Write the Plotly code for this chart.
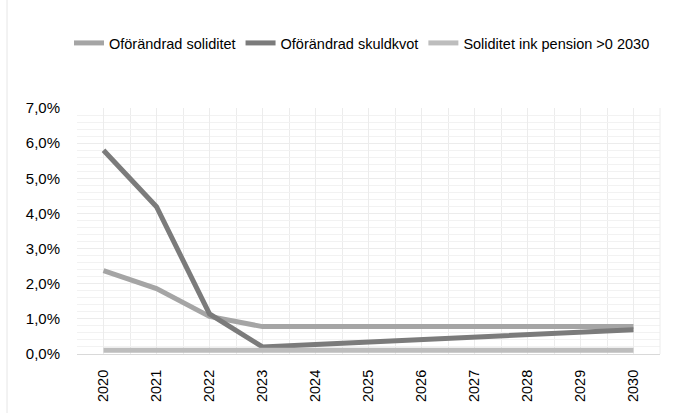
import plotly.graph_objects as go

years = [2020, 2021, 2022, 2023, 2024, 2025, 2026, 2027, 2028, 2029, 2030]
ofor_soliditet = [0.0237, 0.0186, 0.0107, 0.0078, 0.0078, 0.0078, 0.0078, 0.0078, 0.0078, 0.0078, 0.0078]
ofor_skuldkvot = [0.0580, 0.0419, 0.0114, 0.0020, 0.0027, 0.0034, 0.0041, 0.0048, 0.0055, 0.0062, 0.0069]
soliditet_pension = [0.0011, 0.0011, 0.0011, 0.0011, 0.0011, 0.0011, 0.0011, 0.0011, 0.0011, 0.0011, 0.0011]
names = ["Oförändrad soliditet", "Oförändrad skuldkvot", "Soliditet ink pension >0 2030"]
colors = ["#a5a5a5", "#7b7b7b", "#bdbdbd"]

fig = go.Figure()
for name, vals, col in zip(names, [ofor_soliditet, ofor_skuldkvot, soliditet_pension], colors):
    fig.add_trace(go.Scatter(x=years, y=vals, mode="lines", name=name,
                             line=dict(color=col, width=5, shape="linear"),
                             cliponaxis=False))

W, H = 674, 413
ml, mr, mt, mb = 77, 14, 108, 59
pw, ph = W - ml - mr, H - mt - mb
FONT = "Liberation Sans, Arial, sans-serif"

fig.update_layout(
    width=W, height=H,
    margin=dict(l=ml, r=mr, t=mt, b=mb),
    paper_bgcolor="white", plot_bgcolor="white",
    separators=",.",
    font=dict(family=FONT, size=14, color="#000000"),
    showlegend=True,
    legend=dict(orientation="h", x=(362 - ml) / pw, xanchor="center",
                y=(H - mb - 43) / ph, yanchor="middle",
                font=dict(family=FONT, size=14.5, color="#000000"), itemwidth=30,
                tracegroupgap=0, bgcolor="rgba(0,0,0,0)"),
    xaxis=dict(range=[2019.5, 2030.5], tickmode="array", tickvals=years,
               ticktext=[str(y) for y in years], tickangle=-90,
               showgrid=True, gridcolor="#ececec", gridwidth=1,
               minor=dict(dtick=0.5, tick0=2019.5, showgrid=True, gridcolor="#ececec", gridwidth=1),
               showline=True, linecolor="#d9d9d9", linewidth=1, mirror=False,
               zeroline=False, ticks="", ticklabelstandoff=9,
               tickfont=dict(family=FONT, size=14.5)),
    yaxis=dict(range=[0, 0.07], dtick=0.01, tickformat=".1%",
               showgrid=True, gridcolor="#ececec", gridwidth=1,
               minor=dict(dtick=0.002, showgrid=True, gridcolor="#f2f2f2", gridwidth=1),
               showline=False, zeroline=False, ticks="", ticklabelstandoff=16,
               tickfont=dict(family=FONT, size=15)),
    shapes=[
        dict(type="line", xref="paper", yref="paper",
             x0=(7 - ml) / pw, x1=(7 - ml) / pw, y0=-mb / ph, y1=(H - mb) / ph,
             line=dict(color="#e6e6e6", width=1)),
        dict(type="line", xref="paper", yref="paper", x0=1, x1=1, y0=0, y1=1,
             line=dict(color="#ececec", width=1)),
    ],
)

fig.write_html("out.html", config={"displayModeBar": False},
               post_script="document.body.style.margin='0px';document.body.style.overflow='hidden';")
